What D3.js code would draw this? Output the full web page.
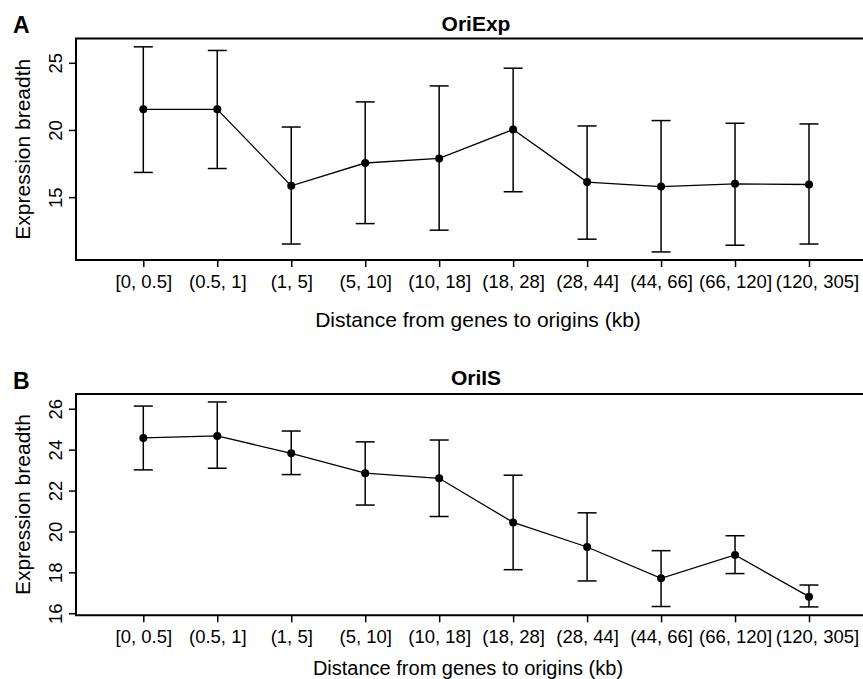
<!DOCTYPE html>
<html>
<head>
<meta charset="utf-8">
<script src="https://cdn.jsdelivr.net/npm/d3@7"></script>
<style>
  body { margin: 0; background: #fff; }
  svg text { font-family: "Liberation Sans", Arial, Helvetica, sans-serif; fill: #000; }
</style>
</head>
<body>
<div id="chart"></div>
<script>
// categories (distance bins, kb)
const categories = ["[0, 0.5]", "(0.5, 1]", "(1, 5]", "(5, 10]", "(10, 18]",
                    "(18, 28]", "(28, 44]", "(44, 66]", "(66, 120]", "(120, 305]"];

// panel A: OriExp
const oriExpMean  = [21.54, 21.54, 15.84, 17.54, 17.88, 20.03, 16.12, 15.79, 15.99, 15.94];
const oriExpLower = [16.84, 17.13, 11.51, 13.03, 12.54, 15.40, 11.87, 10.92, 11.42, 11.51];
const oriExpUpper = [26.19, 25.92, 20.22, 22.09, 23.28, 24.60, 20.30, 20.70, 20.50, 20.45];
const oriExpTicks = [15, 20, 25];

// panel B: OriIS
const oriISMean  = [24.57, 24.67, 23.82, 22.85, 22.60, 20.44, 19.24, 17.71, 18.85, 16.81];
const oriISLower = [23.01, 23.09, 22.78, 21.29, 20.73, 18.13, 17.58, 16.33, 17.94, 16.31];
const oriISUpper = [26.13, 26.33, 24.91, 24.38, 24.47, 22.75, 20.91, 19.06, 19.79, 17.38];
const oriISTicks = [16, 18, 20, 22, 24, 26];

const width = 863, height = 679;

const svg = d3.select("#chart").append("svg")
    .attr("width", width)
    .attr("height", height);

// same x layout for both panels
const frameLeft = 76, frameRight = 880;
const x = d3.scalePoint()
    .domain(categories)
    .range([143.3, 809]);

function drawPanel(p) {
    const y = d3.scaleLinear()
        .domain(p.yDomain)
        .range([p.bottom, p.top]);

    const g = svg.append("g");

    // x axis
    g.append("g")
        .attr("transform", `translate(0,${p.bottom})`)
        .call(d3.axisBottom(x).tickSize(7).tickSizeOuter(0).tickPadding(8))
        .call(a => a.select(".domain").remove())
        .call(a => a.selectAll("line").attr("stroke", "#000").attr("stroke-width", 1.5))
        .call(a => a.selectAll("text")
            .attr("font-size", 18.5)
            .attr("font-family", null)
            // last label is nudged right in the original so it doesn't collide
            .attr("dx", (d, i, n) => i === n.length - 1 ? 8 : null));

    // y axis, labels rotated like R default
    g.append("g")
        .attr("transform", `translate(${frameLeft},0)`)
        .call(d3.axisLeft(y).tickValues(p.ticks).tickSize(7).tickSizeOuter(0))
        .call(a => a.select(".domain").remove())
        .call(a => a.selectAll("line").attr("stroke", "#000").attr("stroke-width", 1.5))
        .call(a => a.selectAll("text")
            .attr("x", null)
            .attr("dy", null)
            .attr("text-anchor", "middle")
            .attr("font-size", 18.5)
            .attr("font-family", null)
            .attr("transform", "translate(-14,0) rotate(-90)"));

    // frame: top, left, bottom (right side runs off the picture)
    g.append("path")
        .attr("d", `M${frameRight},${p.top}H${frameLeft}V${p.bottom}H${frameRight}`)
        .attr("fill", "none")
        .attr("stroke", "#000")
        .attr("stroke-width", 2);

    const rows = categories.map((c, i) => ({ c, m: p.mean[i], lo: p.lower[i], hi: p.upper[i] }));

    // error bars
    const bars = g.append("g")
        .attr("stroke", "#000")
        .attr("stroke-width", 1.5)
        .selectAll("g")
        .data(rows)
        .join("g");
    bars.append("line")
        .attr("x1", d => x(d.c)).attr("x2", d => x(d.c))
        .attr("y1", d => y(d.lo)).attr("y2", d => y(d.hi));
    bars.append("line")
        .attr("x1", d => x(d.c) - 9.5).attr("x2", d => x(d.c) + 9.5)
        .attr("y1", d => y(d.hi)).attr("y2", d => y(d.hi));
    bars.append("line")
        .attr("x1", d => x(d.c) - 9.5).attr("x2", d => x(d.c) + 9.5)
        .attr("y1", d => y(d.lo)).attr("y2", d => y(d.lo));

    // mean line and points
    g.append("path")
        .datum(rows)
        .attr("fill", "none")
        .attr("stroke", "#000")
        .attr("stroke-width", 1.3)
        .attr("d", d3.line().x(d => x(d.c)).y(d => y(d.m)));

    g.append("g")
        .selectAll("circle")
        .data(rows)
        .join("circle")
        .attr("cx", d => x(d.c))
        .attr("cy", d => y(d.m))
        .attr("r", 4)
        .attr("fill", "#000");

    // titles and labels
    g.append("text")
        .attr("x", 476).attr("y", p.titleY)
        .attr("text-anchor", "middle")
        .attr("font-size", 21)
        .attr("font-weight", "bold")
        .text(p.title);

    g.append("text")
        .attr("x", 13).attr("y", p.letterY)
        .attr("font-size", 23)
        .attr("font-weight", "bold")
        .text(p.letter);

    g.append("text")
        .attr("transform", `translate(30,${(p.top + p.bottom) / 2}) rotate(-90)`)
        .attr("text-anchor", "middle")
        .attr("font-size", 21)
        .text("Expression breadth");

    g.append("text")
        .attr("x", p.xTitleX).attr("y", p.xTitleY)
        .attr("text-anchor", "middle")
        .attr("font-size", p.xTitleSize)
        .text("Distance from genes to origins (kb)");
}

drawPanel({
    letter: "A", title: "OriExp",
    mean: oriExpMean, lower: oriExpLower, upper: oriExpUpper, ticks: oriExpTicks,
    yDomain: [10.32, 26.81], top: 38.5, bottom: 260,
    letterY: 33, titleY: 31,
    xTitleX: 478, xTitleY: 327, xTitleSize: 21
});

drawPanel({
    letter: "B", title: "OriIS",
    mean: oriISMean, lower: oriISLower, upper: oriISUpper, ticks: oriISTicks,
    yDomain: [15.9, 26.72], top: 394, bottom: 615.3,
    letterY: 389, titleY: 385,
    xTitleX: 468, xTitleY: 674.5, xTitleSize: 20
});
</script>
</body>
</html>
